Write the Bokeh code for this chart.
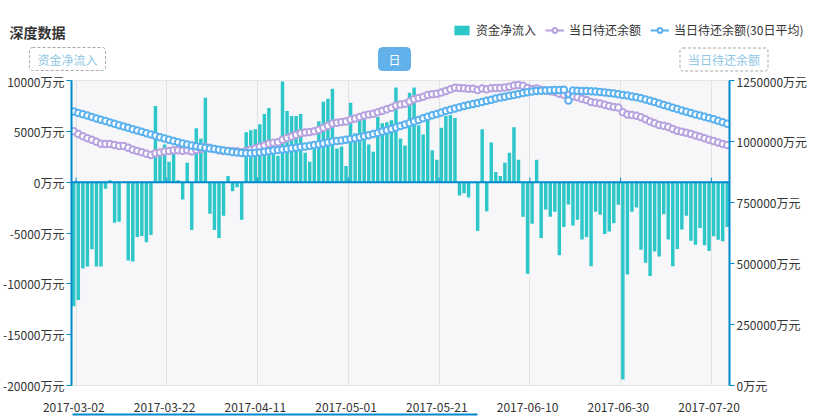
import pandas as pd
from bokeh.plotting import figure
from bokeh.layouts import column
from bokeh.models import (Range1d, LinearAxis, FixedTicker, PrintfTickFormatter, Span,
                          Label, Legend, LegendItem, ColumnDataSource)
from bokeh.embed import file_html
from bokeh.resources import INLINE

# ---------------- data ----------------
dates = pd.date_range("2017-03-02", periods=145, freq="D").strftime("%Y-%m-%d").tolist()

net_inflow = [
    -12200, -11600, -8500, -8300, -6600, -8300, -8300, -650, 200, -4000,
    -3900, 0, -7700, -7800, -5400, -5300, -5900, -5200, 7500, 3000,
    3700, 2000, 2900, 200, -1700, 1900, -4700, 5300, 4300, 8300,
    -3100, -4700, -5500, -3300, 600, -900, -500, -3700, 4900, 5100,
    5200, 5700, 6700, 7300, 3500, 2600, 9900, 7000, 6500, 6500,
    6700, 2900, 2000, 3400, 6000, 7900, 8200, 9200, 3300, 3500,
    1600, 7800, 4800, 6100, 6300, 3700, 3000, 6400, 5800, 5900,
    6100, 9300, 4300, 3600, 8800, 9300, 5600, 4700, 6800, 3150,
    2200, 5350, 6500, 6600, 6300, -1300, -1100, -1500, -100, -4800,
    5200, -2850, 3900, 1000, 600, 1900, 2900, 5400, 2200, -3400,
    -9000, -4100, 2200, -5500, -2700, -3400, -2900, -7200, -4400, -2200,
    -4250, -3700, -5640, -5400, -8260, -2900, -3200, -5100, -4850, -4030,
    -2230, -19400, -9080, -2900, -2500, -6650, -7930, -9240, -6820, -7300,
    -3150, -5640, -8260, -6570, -4660, -3300, -5750, -6160, -4500, -6200,
    -6780, -5310, -5670, -5800, -4400,
]

balance = [
    1042000, 1030400, 1021900, 1013600, 1007000, 998700, 990400, 989750, 989950, 985950,
    982050, 982050, 974350, 966550, 961150, 955850, 949950, 944750, 952250, 955250,
    958950, 960950, 963850, 964050, 962350, 964250, 959550, 964850, 969150, 977450,
    974350, 969650, 964150, 960850, 961450, 960550, 960050, 956350, 961250, 966350,
    971550, 977250, 983950, 991250, 994750, 997350, 1007250, 1014250, 1020750, 1027250,
    1033950, 1036850, 1038850, 1042250, 1048250, 1056150, 1064350, 1073550, 1076850, 1080350,
    1081950, 1089750, 1094550, 1100650, 1106950, 1110650, 1113650, 1120050, 1125850, 1131750,
    1137850, 1147150, 1151450, 1155050, 1163850, 1173150, 1178750, 1183450, 1190250, 1193400,
    1195600, 1200950, 1207450, 1214050, 1220350, 1219050, 1217950, 1216450, 1216350, 1211550,
    1216750, 1213900, 1217800, 1218800, 1219400, 1221300, 1224200, 1229600, 1231800, 1228400,
    1219400, 1215300, 1217500, 1212000, 1209300, 1205900, 1203000, 1195800, 1191400, 1189200,
    1184950, 1181250, 1175610, 1170210, 1161950, 1159050, 1155850, 1150750, 1145900, 1141870,
    1139640, 1120240, 1111160, 1108260, 1105760, 1099110, 1091180, 1081940, 1075120, 1067820,
    1064670, 1059030, 1050770, 1044200, 1039540, 1036240, 1030490, 1024330, 1019830, 1013630,
    1006850, 1001540, 995870, 990070, 985670,
]

balance_avg30 = [
    1123000, 1117200, 1111900, 1106200, 1100400, 1094700, 1088900, 1083600, 1077900, 1072500,
    1066800, 1061500, 1056100, 1050400, 1045100, 1039800, 1034000, 1028700, 1023400, 1017600,
    1012300, 1007000, 1001650, 996700, 991800, 987700, 984000, 980700, 977500, 974600,
    971700, 968900, 966000, 963100, 960200, 957400, 954900, 953300, 952000, 952000,
    952900, 954900, 957800, 960200, 962700, 965200, 967600, 969700, 972100, 974600,
    977000, 979500, 982400, 985200, 988500, 992200, 995900, 999600, 1002100, 1004500,
    1007400, 1010300, 1013500, 1017200, 1021300, 1025800, 1030300, 1035200, 1040600, 1045900,
    1051700, 1057400, 1063500, 1069700, 1075800, 1082000, 1088500, 1095100, 1101200, 1107400,
    1113100, 1118900, 1124600, 1129900, 1135300, 1140600, 1145900, 1150000, 1154100, 1158200,
    1162300, 1166800, 1171300, 1176200, 1179900, 1183600, 1187300, 1191000, 1194700, 1198400,
    1201700, 1204900, 1206600, 1207800, 1209000, 1209900, 1210700, 1211500, 1211900, 1168000,
    1209000, 1208200, 1207400, 1206600, 1205700, 1204900, 1203300, 1201200, 1199200, 1196700,
    1193900, 1191000, 1188100, 1184800, 1181200, 1177000, 1172600, 1167200, 1161500, 1155700,
    1150000, 1144300, 1138500, 1132800, 1127100, 1121700, 1116400, 1111100, 1106200, 1101200,
    1096300, 1091000, 1085200, 1079100, 1072500,
]

left_ticks = [-20000, -15000, -10000, -5000, 0, 5000, 10000]
right_ticks = [0, 250000, 500000, 750000, 1000000, 1250000]
label_step = 20
series_names = ["资金净流入", "当日待还余额", "当日待还余额(30日平均)"]
title_text = "深度数据"
period_text = "日"

# ---------------- styles ----------------
FONT = "Noto Sans CJK SC"
C_BAR = "#2ec7c9"
C_BAL = "#b6a2de"
C_AVG = "#5ab1ef"
C_AXIS = "#008acd"
TXT = "#333333"
W = 824
HEAD_H = 72
MAIN_H = 419 - HEAD_H

n = len(dates)
idx = list(range(n))
label_idx = idx[::label_step]
boundary = [i + 0.5 for i in label_idx]
src = ColumnDataSource(dict(x=idx, date=dates, net=net_inflow, bal=balance, avg=balance_avg30))

# ---------------- header: title, buttons, legend ----------------
head = figure(width=W, height=HEAD_H, output_backend="svg", toolbar_location=None,
              x_range=Range1d(0, W), y_range=Range1d(HEAD_H, 0),
              x_axis_type=None, y_axis_type=None,
              min_border=0, min_border_left=0, min_border_right=0,
              min_border_top=0, min_border_bottom=0)
head.frame_align = False
head.grid.visible = False
head.outline_line_color = None
head.background_fill_color = "white"
head.border_fill_color = "white"

head.add_layout(Label(x=9, y=31, text=title_text, text_font=FONT, text_font_size="14px",
                      text_font_style="bold", text_color=TXT, text_baseline="middle"))

btn_style = dict(text_align="center", text_baseline="middle", text_font=FONT,
                 text_font_size="12px", text_color="#8fc6e6", border_line_color="#a8a8a8",
                 border_line_dash="3 2", border_radius=3,
                 padding=dict(top=3, right=8, bottom=3, left=8))
head.add_layout(Label(x=67, y=58.5, text=series_names[0], **btn_style))
head.add_layout(Label(x=723.5, y=59, text=series_names[1], **btn_style))
head.add_layout(Label(x=394, y=58.5, text=period_text, text_align="center", text_baseline="middle",
                      text_font=FONT, text_font_size="12px", text_color="white",
                      background_fill_color="#62b1ea", border_line_color="#62b1ea",
                      border_radius=4, padding=dict(top=3, right=10, bottom=3, left=10)))

# legend renderers: one point placed outside the visible range, only for the legend icons
off = ColumnDataSource(dict(x=[-500], y=[-500]))
lg_bar = head.vbar(x="x", top="y", width=1, source=off, fill_color=C_BAR, line_color=None)
lg_l1 = head.line("x", "y", source=off, line_color=C_BAL, line_width=2)
lg_s1 = head.scatter("x", "y", source=off, marker="circle", size=7, fill_color="white",
                     line_color=C_BAL, line_width=2)
lg_l2 = head.line("x", "y", source=off, line_color=C_AVG, line_width=2)
lg_s2 = head.scatter("x", "y", source=off, marker="circle", size=7, fill_color="white",
                     line_color=C_AVG, line_width=2)
legend = Legend(items=[LegendItem(label=series_names[0], renderers=[lg_bar]),
                       LegendItem(label=series_names[1], renderers=[lg_l1, lg_s1]),
                       LegendItem(label=series_names[2], renderers=[lg_l2, lg_s2])],
                orientation="horizontal", location=(452, HEAD_H - 38),
                glyph_width=19, glyph_height=12, label_standoff=5, spacing=9,
                padding=0, margin=0, background_fill_alpha=0, border_line_color=None,
                label_text_font=FONT, label_text_font_size="12px", label_text_color=TXT,
                label_height=12, label_text_baseline="middle")
head.add_layout(legend, "center")

# ---------------- main chart ----------------
p = figure(width=W, height=MAIN_H, output_backend="svg", toolbar_location=None,
           x_range=Range1d(-0.5, n - 0.5),
           y_range=Range1d(left_ticks[0], left_ticks[-1]),
           min_border_left=69, min_border_right=95, min_border_top=8,
           min_border_bottom=MAIN_H - 8 - 305)
p.frame_align = False
p.extra_y_ranges = {"bal": Range1d(right_ticks[0], right_ticks[-1])}
p.extra_x_ranges = {"strip": Range1d(69, 729)}
p.background_fill_color = "#f7f7f9"
p.border_fill_color = "white"
p.outline_line_color = "#e6e6e6"

p.xgrid.ticker = FixedTicker(ticks=boundary)
p.xgrid.grid_line_color = "#e2e2e2"
p.ygrid.grid_line_color = None


def style_yaxis(ax):
    ax.axis_line_color = C_AXIS
    ax.axis_line_width = 2
    ax.major_tick_line_color = C_AXIS
    ax.major_tick_line_width = 1
    ax.major_tick_out = 5
    ax.major_tick_in = 0
    ax.minor_tick_line_color = None
    ax.major_label_standoff = 2
    ax.major_label_text_font = FONT
    ax.major_label_text_font_size = "12px"
    ax.major_label_text_color = TXT


ya = p.yaxis[0]
ya.ticker = FixedTicker(ticks=left_ticks)
ya.formatter = PrintfTickFormatter(format="%d万元")
style_yaxis(ya)

ra = LinearAxis(y_range_name="bal", ticker=FixedTicker(ticks=right_ticks),
                formatter=PrintfTickFormatter(format="%d万元"))
style_yaxis(ra)
p.add_layout(ra, "right")

xa = p.xaxis[0]
xa.ticker = FixedTicker(ticks=label_idx)
xa.major_label_overrides = {i: dates[i] for i in label_idx}
xa.axis_line_color = None
xa.major_tick_line_color = None
xa.minor_tick_line_color = None
xa.major_label_standoff = 11
xa.major_label_text_font = FONT
xa.major_label_text_font_size = "12px"
xa.major_label_text_color = TXT

# slider strip under the date labels (an axis line limited by bounds)
strip = LinearAxis(x_range_name="strip", ticker=FixedTicker(ticks=[]), bounds=(70, 476),
                   axis_line_color=C_AXIS, axis_line_width=2,
                   major_tick_line_color=None, minor_tick_line_color=None,
                   major_label_text_font_size="0px")
p.add_layout(strip, "below")

bars = p.vbar(x="x", top="net", width=0.76, source=src, fill_color=C_BAR, line_color=None)
p.add_layout(Span(location=0, dimension="width", line_color=C_AXIS, line_width=2))
# small category ticks standing on the zero line
p.segment(x0=boundary, y0=[0] * len(boundary), x1=boundary, y1=[450] * len(boundary),
          line_color=C_AXIS, line_width=1)
l1 = p.line("x", "bal", source=src, y_range_name="bal", line_color=C_BAL, line_width=2)
s1 = p.scatter("x", "bal", source=src, y_range_name="bal", marker="circle", size=6.5,
               fill_color="white", line_color=C_BAL, line_width=2)
l2 = p.line("x", "avg", source=src, y_range_name="bal", line_color=C_AVG, line_width=2)
s2 = p.scatter("x", "avg", source=src, y_range_name="bal", marker="circle", size=6.5,
               fill_color="white", line_color=C_AVG, line_width=2)

layout = column(head, p, spacing=0)
open("out.html", "w").write(file_html(layout, INLINE))
